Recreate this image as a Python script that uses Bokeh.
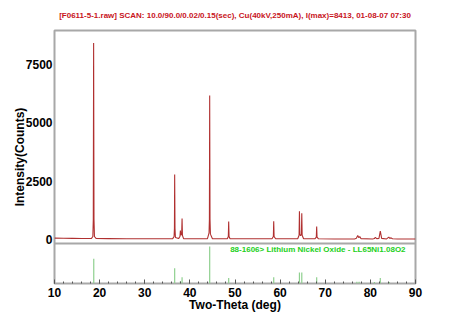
from bokeh.plotting import figure
from bokeh.models import Range1d, FixedTicker, Label, ColumnDataSource, Span
from bokeh.embed import file_html
from bokeh.resources import INLINE

# ---- data ----
scan_2theta = [10.0, 12.0, 14.0, 16.0, 18.2, 18.5, 18.6, 18.67, 18.75, 18.85, 19.2,
               22.0, 26.0, 30.0, 34.0, 36.2, 36.5, 36.58, 36.63, 36.7, 36.8,
               37.5, 37.8, 37.9, 38.0, 38.18, 38.27, 38.35, 38.6, 40.0,
               43.9, 44.25, 44.33, 44.39, 44.46, 44.55, 45.0, 47.0,
               48.3, 48.52, 48.6, 48.68, 48.9, 52.0, 56.0,
               58.2, 58.5, 58.58, 58.66, 59.0, 62.0,
               63.9, 64.2, 64.28, 64.36, 64.55, 64.72, 64.8, 64.88, 65.2,
               67.7, 68.02, 68.1, 68.18, 68.5, 72.0,
               76.5, 76.9, 77.2, 77.45, 77.65, 77.9, 80.5, 80.9, 81.1, 81.4,
               81.9, 82.2, 82.5, 83.6, 84.08, 84.3, 84.6, 84.9, 86.0, 90.0]
scan_counts = [80, 75, 70, 65, 70, 150, 900, 8413, 900, 150, 65,
               60, 55, 55, 55, 60, 150, 500, 2797, 500, 110,
               60, 150, 405, 200, 250, 918, 200, 60, 55,
               60, 300, 900, 6170, 900, 250, 55, 50,
               55, 150, 790, 150, 50, 50, 50,
               55, 150, 803, 150, 50, 50,
               55, 200, 1230, 250, 180, 250, 1144, 200, 55,
               50, 120, 576, 120, 50, 45,
               45, 70, 190, 100, 150, 60, 45, 60, 110, 60,
               70, 376, 70, 45, 120, 70, 90, 50, 45, 45]

ref_2theta = [18.70, 36.63, 37.90, 38.27, 44.39, 48.60, 58.58, 64.28, 64.80, 68.10,
              77.00, 77.50, 80.90, 82.20, 84.20]
ref_rel_int = [67, 41, 6, 17, 100, 15, 17, 30, 30, 17, 5, 5, 4, 15, 4]
ref_base = [0] * len(ref_2theta)

y_ticks = [0, 2500, 5000, 7500]
x_ticks = [10, 20, 30, 40, 50, 60, 70, 80, 90]

title_text = ("[F0611-5-1.raw] SCAN: 10.0/90.0/0.02/0.15(sec), Cu(40kV,250mA), "
              "I(max)=8413, 01-08-07 07:30")
ref_label = "88-1606> Lithium Nickel Oxide - LL65Ni1.08O2"

FONT = "Liberation Sans"
FRAME = "#a8a8a8"

# one frame holding both panels: upper part for counts, lower strip for reference sticks
p = figure(width=450, height=324, x_range=Range1d(10, 90), y_range=Range1d(-1859, 8950),
           output_backend="svg", toolbar_location=None,
           min_border_left=54, min_border_right=35, min_border_top=30, min_border_bottom=41)
p.extra_y_ranges = {"ref": Range1d(0, 683)}
p.grid.visible = False
p.outline_line_color = FRAME
p.outline_line_width = 2
p.background_fill_color = "white"
p.border_fill_color = "white"

p.title.text = title_text
p.title.align = "center"
p.title.vertical_align = "top"
p.title.text_font = FONT
p.title.text_font_size = "8px"
p.title.text_font_style = "bold"
p.title.text_color = "#c8141c"
p.title.offset = 5
p.title.standoff = 18

# separator between the panels
p.add_layout(Span(location=-150, dimension="width", line_color=FRAME, line_width=2))

src = ColumnDataSource(dict(x=scan_2theta, y=scan_counts))
p.line("x", "y", source=src, line_color="#b03030", line_width=1.1)

ssrc = ColumnDataSource(dict(x=ref_2theta, y0=ref_base, y1=ref_rel_int))
p.segment(x0="x", y0="y0", x1="x", y1="y1", source=ssrc, y_range_name="ref",
          line_color="#8fd08f", line_width=1.2)

p.add_layout(Label(x=87.8, y=91, y_range_name="ref", text=ref_label, text_align="right",
                   text_baseline="middle", text_font=FONT, text_font_size="8px",
                   text_font_style="bold", text_color="#22d022"))

ya = p.yaxis[0]
ya.ticker = FixedTicker(ticks=y_ticks)
ya.axis_line_color = None
ya.major_tick_in = 0
ya.major_tick_out = 0
ya.minor_tick_in = 0
ya.minor_tick_out = 0
ya.major_label_standoff = 2
ya.major_label_text_font = FONT
ya.major_label_text_font_size = "12px"
ya.major_label_text_font_style = "bold"
ya.major_label_text_color = "black"
ya.axis_label = "Intensity(Counts)"
ya.axis_label_text_font = FONT
ya.axis_label_text_font_size = "12px"
ya.axis_label_text_font_style = "bold"
ya.axis_label_text_color = "black"
ya.axis_label_standoff = -4

xa = p.xaxis[0]
xa.ticker = FixedTicker(ticks=x_ticks, minor_ticks=list(range(10, 91, 2)))
xa.axis_line_color = None
xa.major_tick_in = 4
xa.major_tick_out = 0
xa.minor_tick_in = 2
xa.minor_tick_out = 0
xa.major_tick_line_color = "#555555"
xa.minor_tick_line_color = "#555555"
xa.major_label_standoff = 4
xa.major_label_text_font = FONT
xa.major_label_text_font_size = "12px"
xa.major_label_text_font_style = "bold"
xa.major_label_text_color = "black"
xa.axis_label = "Two-Theta (deg)"
xa.axis_label_text_font = FONT
xa.axis_label_text_font_size = "12px"
xa.axis_label_text_font_style = "bold"
xa.axis_label_text_color = "black"
xa.axis_label_standoff = -2

open("out.html", "w").write(file_html(p, INLINE))
